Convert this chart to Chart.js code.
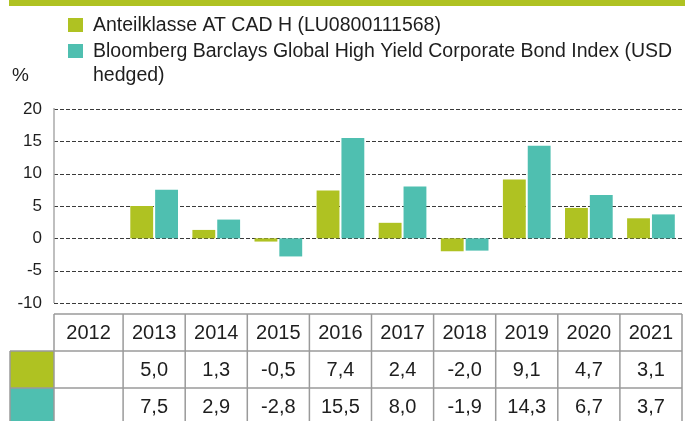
<!DOCTYPE html>
<html>
<head>
<meta charset="utf-8">
<script src="https://cdn.jsdelivr.net/npm/chart.js@4/dist/chart.umd.min.js"></script>
<style>
  html, body { margin: 0; padding: 0; background: #ffffff; }
  #wrap { width: 685px; height: 421px; position: relative; overflow: hidden; }
</style>
</head>
<body>
<div id="wrap"><canvas id="c" width="685" height="421"></canvas></div>
<script>
// ---- data ----
const years = ['2012', '2013', '2014', '2015', '2016', '2017', '2018', '2019', '2020', '2021'];
const fundValues = [null, 5.0, 1.3, -0.5, 7.4, 2.4, -2.0, 9.1, 4.7, 3.1];
const indexValues = [null, 7.5, 2.9, -2.8, 15.5, 8.0, -1.9, 14.3, 6.7, 3.7];
const seriesNames = [
  'Anteilklasse AT CAD H (LU0800111568)',
  'Bloomberg Barclays Global High Yield Corporate Bond Index (USD hedged)'
];
const yMin = -10, yMax = 20, yStep = 5;
const unitLabel = '%';

// ---- styles ----
const GREEN = '#afc222';
const TEAL = '#4fbfb0';
const TEXT = '#1e1e1e';
const FONT = '"Liberation Sans", Arial, Helvetica, sans-serif';
const seriesColors = [GREEN, TEAL];

function fmt(v) { return v == null ? '' : v.toFixed(1).replace('.', ','); }

const decor = {
  id: 'decor',
  beforeDatasetsDraw(chart) {
    const ctx = chart.ctx, y = chart.scales.y, area = chart.chartArea;
    ctx.save();
    ctx.strokeStyle = '#3a3a3a';
    ctx.lineWidth = 1;
    ctx.setLineDash([4, 2]);
    y.ticks.forEach(t => {
      const py = Math.round(y.getPixelForValue(t.value)) + 0.5;
      ctx.beginPath();
      ctx.moveTo(54, py);
      ctx.lineTo(area.right, py);
      ctx.stroke();
    });
    ctx.restore();
  },
  afterDraw(chart) {
    const ctx = chart.ctx, x = chart.scales.x, y = chart.scales.y, area = chart.chartArea;
    ctx.save();
    // top bar
    ctx.fillStyle = GREEN;
    ctx.fillRect(9, 0, 676, 6);

    // y axis line
    ctx.strokeStyle = '#aaaaaa';
    ctx.lineWidth = 1.5;
    ctx.beginPath();
    ctx.moveTo(54, y.getPixelForValue(yMax) - 1);
    ctx.lineTo(54, y.getPixelForValue(yMin));
    ctx.stroke();

    // unit label
    ctx.fillStyle = TEXT;
    ctx.font = '19px ' + FONT;
    ctx.textAlign = 'left';
    ctx.textBaseline = 'alphabetic';
    ctx.fillText(unitLabel, 12, 81);

    // legend
    const lx = 93, maxW = 588;
    let base = 31;
    seriesNames.forEach((name, i) => {
      ctx.fillStyle = seriesColors[i];
      ctx.fillRect(68, base - 13, 15, 14);
      ctx.fillStyle = TEXT;
      ctx.font = '19.5px ' + FONT;
      const words = name.split(' ');
      let line = '';
      const lines = [];
      words.forEach(w => {
        const test = line ? line + ' ' + w : w;
        if (ctx.measureText(test).width > maxW && line) { lines.push(line); line = w; }
        else line = test;
      });
      lines.push(line);
      lines.forEach((ln, k) => {
        ctx.fillText(ln, lx, base + k * 24);
      });
      base += 26 + (lines.length - 1) * 24;
    });

    // table
    const n = years.length;
    const edges = [54];
    for (let i = 1; i < n; i++) edges.push((x.getPixelForValue(i - 1) + x.getPixelForValue(i)) / 2);
    edges.push(area.right);
    const rows = [314, 351, 388, 425];
    // colour cells
    ctx.fillStyle = GREEN;
    ctx.fillRect(10, rows[1], 44, rows[2] - rows[1]);
    ctx.fillStyle = TEAL;
    ctx.fillRect(10, rows[2], 44, rows[3] - rows[2]);
    // borders
    ctx.strokeStyle = '#9a9a9a';
    ctx.lineWidth = 1.5;
    ctx.beginPath();
    ctx.moveTo(54, rows[0]); ctx.lineTo(area.right, rows[0]);
    ctx.moveTo(10, rows[1]); ctx.lineTo(area.right, rows[1]);
    ctx.moveTo(10, rows[2]); ctx.lineTo(area.right, rows[2]);
    edges.forEach(e => { ctx.moveTo(e, rows[0]); ctx.lineTo(e, 421); });
    ctx.moveTo(10, rows[1]); ctx.lineTo(10, 421);
    ctx.stroke();
    // text
    ctx.fillStyle = TEXT;
    ctx.font = '20px ' + FONT;
    ctx.textAlign = 'center';
    ctx.textBaseline = 'middle';
    const tableRows = [years, fundValues.map(fmt), indexValues.map(fmt)];
    tableRows.forEach((r, ri) => {
      const cy = (rows[ri] + rows[ri + 1]) / 2 + 1;
      r.forEach((txt, ci) => {
        const cx = (edges[ci] + edges[ci + 1]) / 2;
        ctx.fillText(txt, cx, cy);
      });
    });
    ctx.restore();
  }
};

new Chart(document.getElementById('c'), {
  type: 'bar',
  data: {
    labels: years,
    datasets: [
      { label: seriesNames[0], data: fundValues, backgroundColor: GREEN, borderWidth: 0,
        categoryPercentage: 0.8, barPercentage: 0.92 },
      { label: seriesNames[1], data: indexValues, backgroundColor: TEAL, borderWidth: 0,
        categoryPercentage: 0.8, barPercentage: 0.92 }
    ]
  },
  options: {
    responsive: false,
    animation: false,
    layout: { padding: { left: 0, top: 109, right: 3, bottom: 118 } },
    plugins: { legend: { display: false }, tooltip: { enabled: false } },
    scales: {
      x: { type: 'category', display: false, offset: true },
      y: {
        min: yMin, max: yMax,
        grid: { display: false, drawTicks: false },
        border: { display: false },
        ticks: { stepSize: yStep, color: TEXT, font: { size: 17, family: FONT }, padding: 19 },
        afterFit(s) { s.width = 61; }
      }
    }
  },
  plugins: [decor]
});
</script>
</body>
</html>
